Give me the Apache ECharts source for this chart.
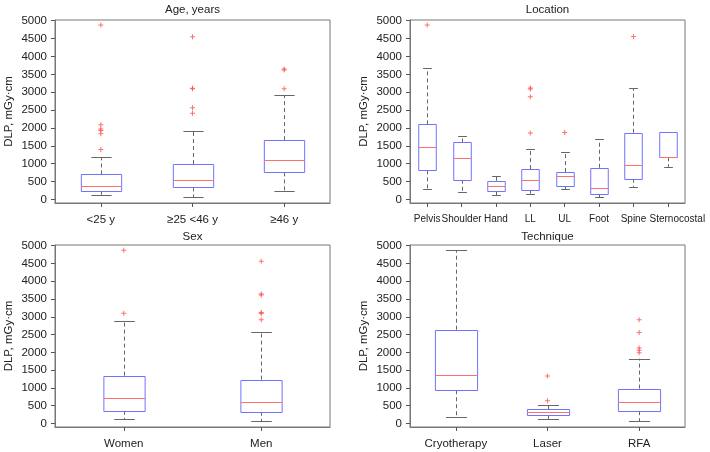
<!DOCTYPE html>
<html>
<head>
<meta charset="utf-8">
<script src="https://cdn.jsdelivr.net/npm/echarts@6/dist/echarts.min.js"></script>
<style>html,body{margin:0;padding:0;background:#fff;}#c{width:710px;height:452px;}</style>
</head>
<body>
<div id="c"></div>
<script>
// ---- Data ----
const yTicks = [0, 500, 1000, 1500, 2000, 2500, 3000, 3500, 4000, 4500, 5000];

const ageCats = ['<25 y', '≥25 <46 y', '≥46 y'];
// [lower whisker, Q1, median, Q3, upper whisker]
const ageBoxes = [
  [121, 243, 364, 700, 1185],
  [56, 336, 532, 989, 1903],
  [224, 756, 1110, 1660, 2920]
];
const ageOutliers = [
  [4880, 2090, 1970, 1930, 1840, 1400],
  [4550, 3110, 3095, 2565, 2410],
  [3650, 3620, 3100]
];

const locCats = ['Pelvis', 'Shoulder', 'Hand', 'LL', 'UL', 'Foot', 'Spine', 'Sternocostal'];
const locBoxes = [
  [280, 812, 1465, 2099, 3666],
  [196, 550, 1157, 1595, 1782],
  [121, 224, 373, 522, 644],
  [140, 271, 532, 849, 1409],
  [280, 364, 653, 765, 1334],
  [56, 149, 308, 886, 1679],
  [354, 578, 970, 1866, 3106],
  [905, 1180, 1195, 1900, 1900]
];
const locOutliers = [[4880], [], [], [3120, 3090, 2870, 1860], [1870], [], [4560], []];

const sexCats = ['Women', 'Men'];
const sexBoxes = [
  [121, 355, 710, 1346, 2869],
  [56, 327, 607, 1234, 2561]
];
const sexOutliers = [
  [4870, 3100],
  [4560, 3640, 3610, 3120, 3090, 2920]
];

const techCats = ['Cryotherapy', 'Laser', 'RFA'];
const techBoxes = [
  [178, 935, 1355, 2636, 4869],
  [121, 234, 318, 393, 523],
  [56, 346, 617, 981, 1822]
];
const techOutliers = [[], [1336, 636], [2920, 2555, 2120, 2060, 1990]];

const titles = ['Age, years', 'Location', 'Sex', 'Technique'];
const yName = 'DLP, mGy·cm';

// ---- Chart ----
const FONT = "'Liberation Sans', Arial, Helvetica, sans-serif";
const TXT = '#222';
const panels = [
  { cats: ageCats, boxes: ageBoxes, outs: ageOutliers, left: 55, top: 20, h: 183, ratio: 0.44, titleY: 4, xfs: 11.5 },
  { cats: locCats, boxes: locBoxes, outs: locOutliers, left: 410, top: 20, h: 183, ratio: 0.51, titleY: 4, xfs: 10 },
  { cats: sexCats, boxes: sexBoxes, outs: sexOutliers, left: 55, top: 245, h: 182, ratio: 0.30, titleY: 231, xfs: 11.5 },
  { cats: techCats, boxes: techBoxes, outs: techOutliers, left: 410, top: 245, h: 182, ratio: 0.46, titleY: 231, xfs: 11.5 }
];
const W = 275;

function makeRender(ratio) {
  return function (params, api) {
    const x = api.value(0);
    const lo = api.coord([x, api.value(1)]);
    const q1 = api.coord([x, api.value(2)]);
    const md = api.coord([x, api.value(3)]);
    const q3 = api.coord([x, api.value(4)]);
    const hi = api.coord([x, api.value(5)]);
    const band = api.size([1, 0])[0];
    const bw = band * ratio;
    const cw = bw / 2;
    const cx = Math.round(lo[0]) + 0.5;
    const whisk = { stroke: '#666', lineWidth: 1, lineDash: [4, 3] };
    const cap = { stroke: '#666', lineWidth: 1 };
    return {
      type: 'group',
      children: [
        { type: 'line', shape: { x1: cx, y1: q3[1], x2: cx, y2: hi[1] }, style: whisk },
        { type: 'line', shape: { x1: cx, y1: q1[1], x2: cx, y2: lo[1] }, style: whisk },
        { type: 'line', shape: { x1: cx - cw / 2, y1: Math.round(hi[1]) + 0.5, x2: cx + cw / 2, y2: Math.round(hi[1]) + 0.5 }, style: cap },
        { type: 'line', shape: { x1: cx - cw / 2, y1: Math.round(lo[1]) + 0.5, x2: cx + cw / 2, y2: Math.round(lo[1]) + 0.5 }, style: cap },
        { type: 'rect', shape: { x: cx - bw / 2, y: Math.round(q3[1]) + 0.5, width: bw, height: Math.round(q1[1]) - Math.round(q3[1]) },
          style: { fill: '#fff', stroke: '#7272ff', lineWidth: 1 } },
        { type: 'line', shape: { x1: cx - bw / 2, y1: Math.round(md[1]) + 0.5, x2: cx + bw / 2, y2: Math.round(md[1]) + 0.5 },
          style: { stroke: '#ff6f6f', lineWidth: 1 } }
      ]
    };
  };
}

const option = {
  animation: false,
  backgroundColor: '#fff',
  title: [], grid: [], xAxis: [], yAxis: [], series: []
};

panels.forEach((p, i) => {
  option.title.push({
    text: titles[i], left: p.left + W / 2, top: p.titleY, textAlign: 'center', padding: 0,
    textStyle: { fontFamily: FONT, fontSize: 11.5, fontWeight: 'normal', color: TXT }
  });
  option.grid.push({
    left: p.left, top: p.top, width: W, height: p.h, show: true,
    borderColor: '#777', borderWidth: 1, backgroundColor: 'transparent'
  });
  const catData = p.cats.map(c => c === 'Sternocostal'
    ? { value: c, textStyle: { padding: [0, 0, 0, 19] } } : c);
  option.xAxis.push({
    type: 'category', gridIndex: i, data: catData, boundaryGap: true,
    axisLine: { show: true, onZero: false, lineStyle: { color: '#777' } },
    axisTick: { show: true, alignWithLabel: true, length: 4, lineStyle: { color: '#555' } },
    axisLabel: { interval: 0, hideOverlap: false, margin: 11, fontFamily: FONT, fontSize: p.xfs, color: TXT },
    splitLine: { show: false }
  });
  option.yAxis.push({
    type: 'value', gridIndex: i, min: -100, max: 5020,
    name: yName, nameLocation: 'middle', nameGap: 40,
    nameTextStyle: { fontFamily: FONT, fontSize: 11.5, color: TXT },
    axisLine: { show: true, onZero: false, lineStyle: { color: '#777' } },
    axisTick: { show: true, length: 4, customValues: yTicks, lineStyle: { color: '#555' } },
    axisLabel: { customValues: yTicks, margin: 8, fontFamily: FONT, fontSize: 11.5, color: TXT,
      formatter: v => String(v) },
    splitLine: { show: false }
  });
  option.series.push({
    type: 'custom', xAxisIndex: i, yAxisIndex: i, renderItem: makeRender(p.ratio),
    data: p.boxes.map((b, k) => [k].concat(b)), z: 2
  });
  const outData = [];
  p.outs.forEach((arr, k) => arr.forEach(v => outData.push([k, v])));
  option.series.push({
    type: 'scatter', xAxisIndex: i, yAxisIndex: i, data: outData,
    symbol: 'path://M2,0H3V5H2Z M0,2H5V3H0Z', symbolSize: 5,
    itemStyle: { color: '#ff4d4d' }, z: 3
  });
});

const chart = echarts.init(document.getElementById('c'), null, { renderer: 'canvas' });
chart.setOption(option);
</script>
</body>
</html>
